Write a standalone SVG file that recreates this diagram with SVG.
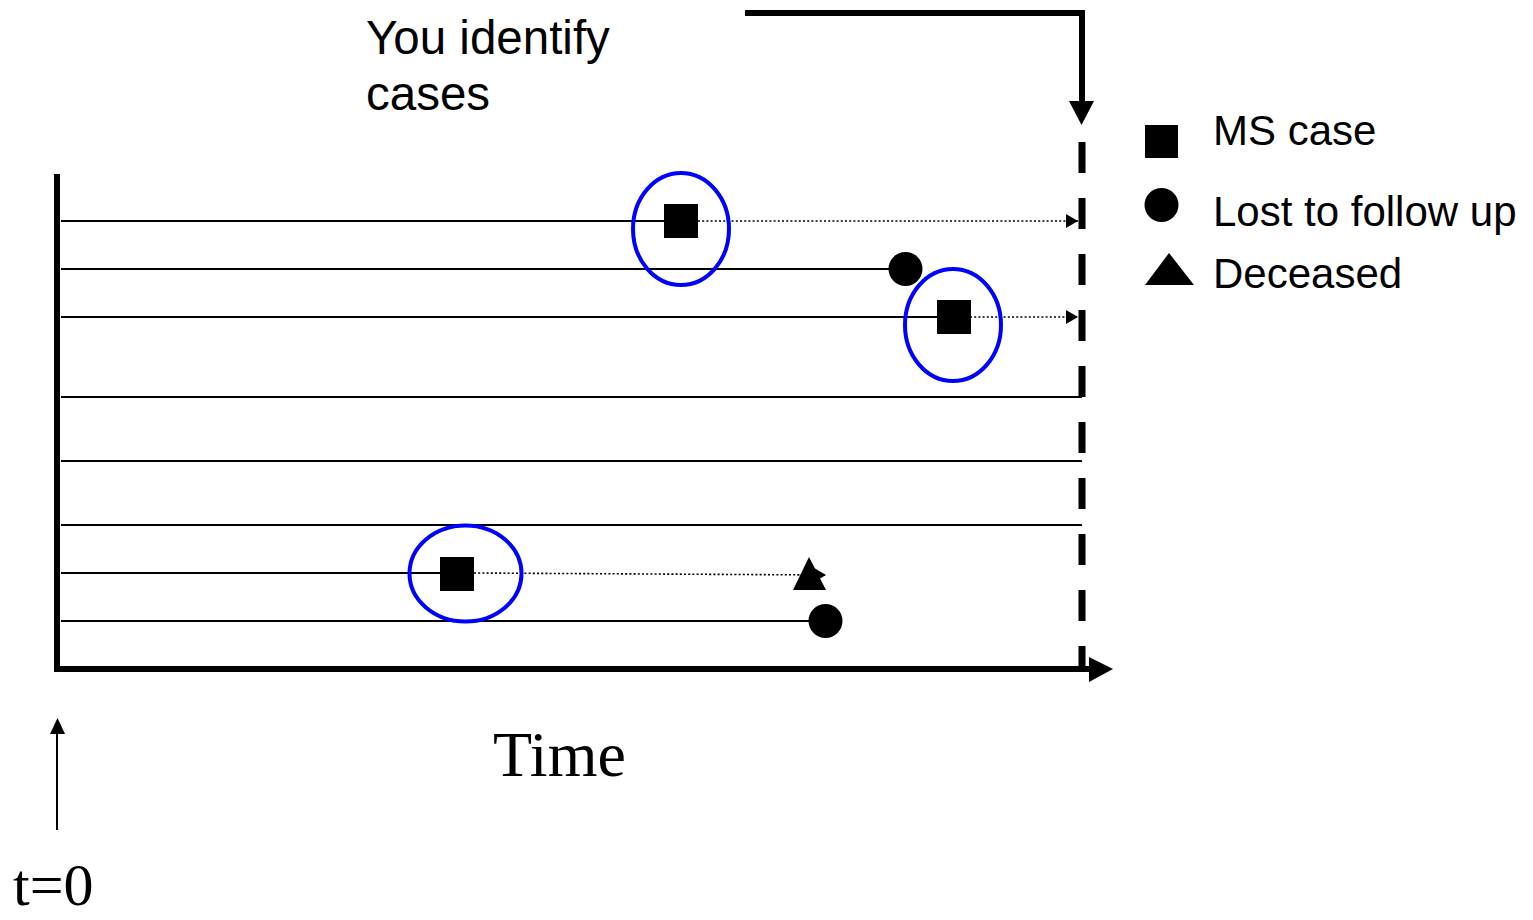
<svg xmlns="http://www.w3.org/2000/svg" width="1533" height="920" viewBox="0 0 1533 920">
<style>
.sans{font-family:"Liberation Sans",Arial,sans-serif;fill:#000}
.serif{font-family:"Liberation Serif","Times New Roman",serif;fill:#000}
.life{stroke:#000;stroke-width:2;fill:none}
.dot{stroke:#000;stroke-width:1.6;stroke-dasharray:2 2.2;fill:none}
.ring{stroke:#0000ff;stroke-width:4;fill:none}
.axis{stroke:#000;stroke-width:6;fill:none}
</style>
<defs>
<marker id="tri" markerWidth="12" markerHeight="14" refX="12" refY="7" orient="auto" markerUnits="userSpaceOnUse">
<path d="M0,0 L12,7 L0,14 Z" fill="#000"/>
</marker>
</defs>
<rect width="1533" height="920" fill="#fff"/>

<g id="connectors">
<line class="life" x1="61" y1="221" x2="664" y2="221"/>
<line class="dot" x1="698" y1="221" x2="1078" y2="221" marker-end="url(#tri)"/>
<line class="life" x1="61" y1="269" x2="890" y2="269"/>
<line class="life" x1="61" y1="317" x2="937" y2="317"/>
<line class="dot" x1="970" y1="317" x2="1078" y2="317" marker-end="url(#tri)"/>
<line class="life" x1="61" y1="397" x2="1082" y2="397"/>
<line class="life" x1="61" y1="461" x2="1082" y2="461"/>
<line class="life" x1="61" y1="525" x2="1082" y2="525"/>
<line class="life" x1="61" y1="573" x2="440" y2="573"/>
<line class="dot" x1="474" y1="573" x2="826" y2="575" marker-end="url(#tri)"/>
<line class="life" x1="61" y1="621" x2="810" y2="621"/>
<line x1="1082" y1="142" x2="1082" y2="669" stroke="#000" stroke-width="7" stroke-dasharray="31 25"/>
<polyline class="axis" points="745,13 1082,13 1082,102"/>
<path d="M1069,101 L1094,101 L1081.5,125 Z" fill="#000"/>
<polyline class="axis" points="57,174 57,669 1090,669"/>
<path d="M1089,657 L1113,669 L1089,682 Z" fill="#000"/>
<line x1="57" y1="830" x2="57" y2="732" stroke="#000" stroke-width="2"/>
<path d="M50,734 L57.5,718 L65,734 Z" fill="#000"/>
</g>

<g id="case1">
<rect x="664" y="204" width="34" height="34" fill="#000"/>
<ellipse class="ring" cx="681" cy="229" rx="48" ry="56"/>
</g>
<g id="lost1"><circle cx="905.5" cy="269" r="17" fill="#000"/></g>
<g id="case2">
<rect x="937" y="300" width="34" height="34" fill="#000"/>
<ellipse class="ring" cx="953" cy="325" rx="48" ry="56"/>
</g>
<g id="case3">
<rect x="440" y="557" width="34" height="34" fill="#000"/>
<ellipse class="ring" cx="465.5" cy="573.5" rx="56" ry="48"/>
</g>
<g id="deceased1"><path d="M809,557 L826,590 L793,590 Z" fill="#000"/></g>
<g id="lost2"><circle cx="825.5" cy="621" r="17" fill="#000"/></g>

<g id="title">
<text class="sans" x="366" y="54" font-size="47.5">You identify</text>
<text class="sans" x="366" y="110" font-size="47.5">cases</text>
</g>

<g id="legend">
<rect x="1145" y="125" width="33" height="33" fill="#000"/>
<text class="sans" x="1213" y="145" font-size="42">MS case</text>
<circle cx="1161.5" cy="205" r="17" fill="#000"/>
<text class="sans" x="1213" y="226" font-size="42">Lost to follow up</text>
<path d="M1169,253 L1194,285 L1145,285 Z" fill="#000"/>
<text class="sans" x="1213" y="288" font-size="42">Deceased</text>
</g>

<g id="labels">
<text class="serif" x="493" y="776" font-size="64">Time</text>
<text class="serif" x="13" y="905" font-size="60">t=0</text>
</g>
</svg>
